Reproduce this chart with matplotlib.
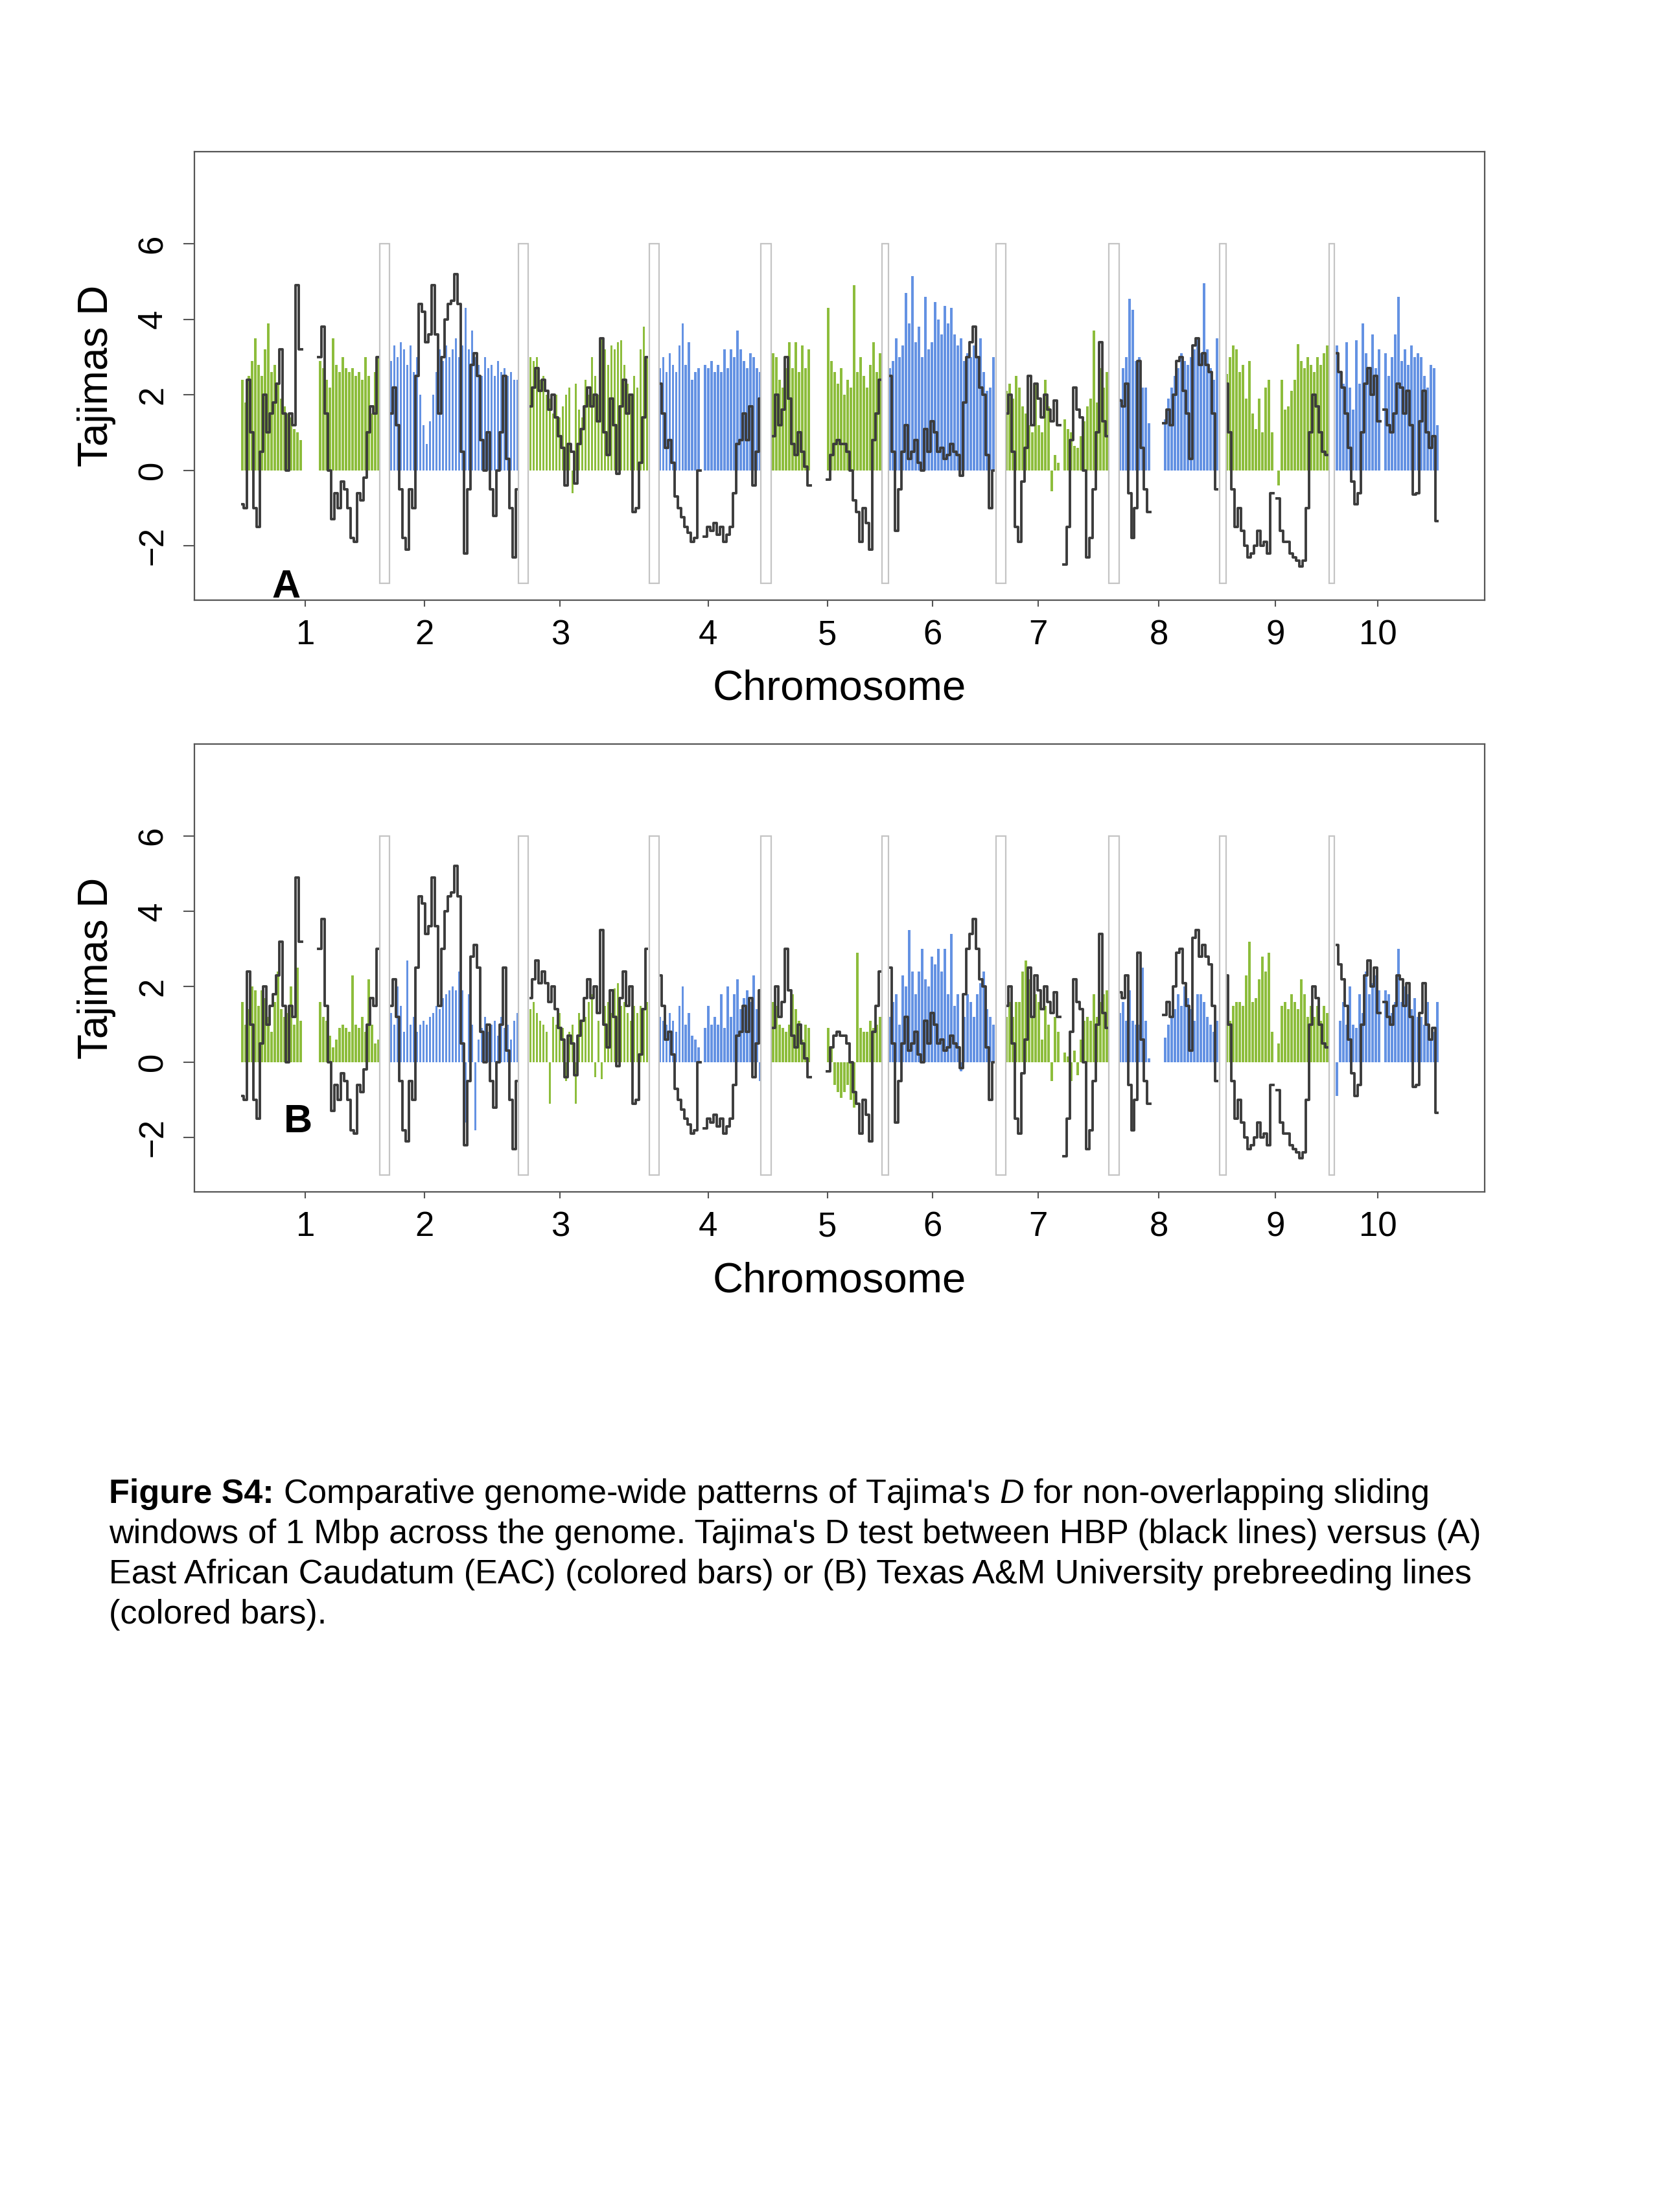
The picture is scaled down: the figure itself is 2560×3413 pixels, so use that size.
import numpy as np
import matplotlib
matplotlib.use("Agg")
import matplotlib.pyplot as plt
from matplotlib.patches import Rectangle

plt.rcParams['font.family'] = ['Liberation Sans', 'DejaVu Sans']
plt.rcParams['mathtext.fontset'] = 'custom'
plt.rcParams['mathtext.rm'] = 'Liberation Sans'
plt.rcParams['mathtext.it'] = 'Liberation Sans:italic'
plt.rcParams['mathtext.bf'] = 'Liberation Sans:bold'

N = None  # no windows (centromere gap)

# window positions along the genome, one value every 2 units from each start
CHROM_START = [0, 92, 178, 258, 328, 400, 472, 542, 608, 676]
CHROM_LABELS = ["1", "2", "3", "4", "5", "6", "7", "8", "9", "10"]
TICK_POS = [39, 112.5, 196.3, 287.7, 361.5, 426.5, 491.7, 566, 638, 701.3]

# white boxes between chromosomes
SEP_LEFT = [85, 170.4, 251.3, 320.3, 395.3, 465.7, 535.3, 603.7, 671.3]
SEP_RIGHT = [91, 176.5, 257.3, 326.5, 399.3, 471.7, 541.5, 607.7, 674.5]

# HBP Tajima's D (black line, same in both panels)
hbp_1 = [-0.9, -1.0, 2.4, 1.0, -1.0, -1.5, 0.5, 2.0, 1.0, 1.5, 1.8, 2.3, 3.2, 1.5, 0.0, 1.5, 1.2, 4.9, 3.2,
         N, N, N, N, N,
         3.0, 3.8, 1.5, 0.0, -1.3, -0.6, -1.0, -0.3, -0.5, -1.0, -1.8, -1.9, -0.6, -0.8, -0.2, 1.0, 1.7, 1.5, 3.0]
hbp_2 = [1.5, 2.2, 1.2, -0.5, -1.8, -2.1, -0.5, -1.0, 2.5, 4.4, 4.2, 3.4, 3.6, 4.9, 3.6, 1.5, 3.0, 4.0, 4.4, 4.5,
         5.2, 4.4, 0.5, -2.2, -0.5, 2.8, 3.1, 2.5, 0.8, 0.0, 1.0, -0.5, -1.2, 0.0, 1.0, 2.5, 0.3, -1.0, -2.3, -0.5]
hbp_3 = [1.7, 2.2, 2.7, 2.1, 2.4, 2.1, 1.6, 2.0, 1.4, 0.9, 0.6, -0.4, 0.7, 0.5, -0.35, 0.7, 1.1, 1.7, 2.2, 1.7,
         2.0, 1.3, 3.5, 1.0, 0.4, 1.9, 1.2, -0.1, 1.7, 2.4, 1.5, 2.0, -1.1, -1.0, 0.2, 1.4, 3.0]
hbp_4 = [2.3, 1.5, 0.6, 0.8, 0.2, -0.7, -1.0, -1.25, -1.5, -1.65, -1.9, -1.8, 0.0,
         N,
         -1.75, -1.5, -1.6, -1.4, -1.7, -1.5, -1.9, -1.7, -1.5, -0.6, 0.7, 0.8, 1.5, 0.8, 1.7, -0.4, 0.5, 1.9]
hbp_5 = [0.9, 2.0, 1.2, 1.6, 3.0, 1.9, 0.7, 0.4, 1.0, 0.5, 0.1, -0.4,
         N, N, N, N, N,
         -0.25, 0.4, 0.7, 0.8, 0.7, 0.7, 0.5, 0.0, -0.8, -1.1, -1.9, -1.0, -1.4, -2.1, 0.8, 1.5, 2.4]
hbp_6 = [2.5, 0.5, -1.6, -0.5, 0.5, 1.2, 0.3, 0.5, 0.8, 0.2, 0.0, 1.1, 0.5, 1.3, 1.0, 0.5, 0.6, 0.3, 0.4, 0.7,
         0.5, 0.4, -0.15, 1.8, 3.0, 3.4, 3.8, 3.0, 2.2, 2.0, 0.4, -1.0, 0.0]
hbp_7 = [1.5, 2.0, 0.5, -1.5, -1.9, -0.3, 0.6, 2.5, 1.2, 2.3, 1.9, 1.4, 2.0, 1.6, 1.3, 1.85, 1.2,
         N,
         -2.5, -1.5, 0.8, 2.2, 1.6, 1.4, 0.0, -2.3, -1.8, -0.5, 1.0, 3.4, 1.3, 0.9]
hbp_8 = [1.85, 1.7, 2.3, -0.6, -1.8, -1.0, 2.9, 0.6, -0.5, -1.1,
         N, N, N, N,
         1.25, 1.6, 1.2, 2.0, 2.9, 3.0, 2.1, 1.5, 0.3, 3.3, 3.5, 2.8, 3.1, 2.8, 2.6, 1.5, -0.5]
hbp_9 = [2.3, 1.0, -0.5, -1.5, -1.0, -1.6, -2.0, -2.3, -2.2, -2.0, -1.6, -2.0, -1.9, -2.2, -0.6,
         N,
         -0.75, -1.6, -1.9, -1.9, -2.2, -2.3, -2.4, -2.55, -2.4, -1.0, 1.0, 2.0, 1.7, 1.0, 0.5, 0.4]
hbp_10 = [3.1, 2.6, 2.2, 1.5, 0.6, -0.3, -0.9, -0.6, 1.0, 2.3, 2.7, 2.0, 2.5, 1.3,
          N,
          1.6, 1.2, 1.0, 1.5, 2.3, 2.2, 1.5, 2.1, 1.2, -0.65, -0.6, 1.3, 2.1, 1.0, 0.6, 0.9, -1.35]

# (A) East African Caudatum (coloured bars)
eac_1 = [2.4, 1.8, 2.5, 2.9, 3.5, 2.8, 2.5, 3.2, 3.9, 2.6, 2.8, 2.3, 1.9, 1.7, 1.5, 1.4, 1.1, 1.0, 0.8,
         N, N, N, N, N,
         2.9, 2.7, 2.4, 2.2, 3.5, 2.8, 2.6, 3.0, 2.7, 2.6, 2.7, 2.5, 2.6, 2.4, 3.0, 2.5, 1.5, 2.6, 3.0]
eac_2 = [2.9, 3.3, 3.0, 3.4, 3.2, 2.8, 3.3, 2.6, 3.0, 2.0, 1.2, 0.7, 1.3, 2.0, 2.6, 3.2, 2.9, 3.3, 3.0, 3.2,
         3.5, 3.0, 3.3, 4.3, 3.2, 3.7, 3.0, 2.8, 2.5, 3.0, 2.7, 2.8, 2.5, 2.9, 2.6, 2.7, 2.5, 2.6, 2.4, 2.4]
eac_3 = [3.0, 2.9, 3.0, 2.4, 2.5, 2.0, 1.9, 1.5, 2.0, 1.4, 1.7, 2.0, 2.2, -0.6, 2.3, 1.6, 1.4, 2.4, 2.0, 3.0,
         2.5, 2.0, 3.5, 3.2, 2.8, 3.3, 3.2, 3.4, 3.45, 2.8, 2.3, 2.0, 2.5, 2.2, 3.2, 3.8, 3.0]
eac_4 = [2.7, 3.0, 2.6, 3.1, 2.8, 2.6, 3.3, 3.9, 2.8, 3.4, 2.4, 2.6, 2.7,
         N,
         2.8, 2.7, 2.9, 2.6, 2.8, 2.6, 3.2, 2.7, 3.2, 3.0, 3.7, 3.2, 2.9, 2.7, 3.1, 3.0, 2.7, 2.6]
eac_5 = [3.1, 3.0, 2.4, 2.2, 2.7, 3.4, 2.7, 3.4, 2.6, 3.3, 2.7, 3.2,
         N, N, N, N, N,
         4.3, 2.9, 2.6, 2.3, 2.7, 2.0, 2.4, 2.2, 4.9, 2.6, 3.0, 2.5, 2.2, 2.8, 3.4, 2.6, 3.1]
eac_6 = [2.7, 2.9, 3.5, 3.0, 3.3, 4.7, 3.9, 5.15, 3.4, 3.8, 3.0, 4.6, 3.2, 3.4, 4.45, 4.0, 3.6, 4.35, 3.9, 4.3,
         3.6, 3.3, 3.5, 2.9, 3.1, 3.0, 3.3, 3.0, 3.5, 2.6, 2.1, 2.2, 3.0]
eac_7 = [2.1, 2.3, 1.9, 2.5, 2.2, 1.7, 1.5, 1.2, 1.0, 2.3, 1.2, 1.0, 2.4, 1.7, -0.55, 0.4, 0.2,
         N,
         1.35, 1.1, 1.0, 0.65, 0.6, 0.9, 1.3, 1.7, 1.9, 3.7, 1.8, 2.7, 2.2, 2.6]
eac_8 = [1.9, 2.7, 3.0, 4.55, 4.25, 2.9, 3.0, 2.2, 2.2, 1.25,
         N, N, N, N,
         1.35, 1.9, 2.2, 2.5, 2.7, 3.1, 2.9, 2.8, 3.0, 3.2, 3.5, 3.1, 4.95, 3.2, 2.7, 2.4, 3.5]
eac_9 = [2.55, 3.0, 3.3, 3.2, 2.6, 2.8, 1.9, 2.9, 1.5, 1.1, 1.9, 1.0, 2.2, 2.4, 1.0,
         N,
         -0.4, 2.4, 1.6, 1.7, 2.1, 2.4, 3.35, 2.9, 2.7, 3.0, 2.8, 2.6, 3.0, 2.8, 3.1, 3.3]
eac_10 = [3.3, 2.6, 2.3, 3.4, 2.2, 1.6, 3.45, 2.3, 3.9, 3.1, 2.7, 3.6, 2.7, 3.2,
          N,
          3.1, 2.5, 3.0, 3.6, 4.6, 2.9, 3.2, 2.8, 3.3, 3.0, 3.1, 3.0, 2.5, 2.2, 2.8, 2.7, 1.2]

# (B) Texas A&M prebreeding lines (coloured bars)
tam_1 = [1.6, 1.0, 1.4, 2.0, 1.9, 1.5, 1.9, 1.7, 1.2, 0.8, 1.6, 2.4, 1.4, 1.2, 1.3, 2.0, 1.0, 2.5, 1.1,
         N, N, N, N, N,
         1.6, 1.2, 1.1, 0.7, 0.4, 0.6, 0.9, 1.0, 0.9, 0.8, 2.3, 1.0, 0.9, 1.2, 0.8, 2.2, 1.0, 0.5, 0.6]
tam_2 = [1.3, 1.0, 2.0, 1.5, 0.8, 2.7, 1.0, 1.2, 0.8, 1.0, 1.1, 1.0, 1.2, 1.3, 1.5, 1.4, 1.7, 1.8, 1.9, 2.0,
         1.9, 2.4, 1.9, -1.6, 1.8, 1.0, -1.8, 0.6, 0.9, 1.2, 0.8, 1.0, 1.1, 0.7, 1.2, 0.9, 1.0, 0.6, 1.1, 1.3]
tam_3 = [1.4, 1.6, 1.3, 1.1, 1.0, 0.8, -1.1, 1.2, 1.0, 1.3, 0.9, -0.5, 0.8, 1.0, -1.1, 1.3, 1.1, 1.2, 1.6, 1.8,
         -0.4, 1.1, -0.45, 1.5, 1.6, 1.3, 1.95, 2.1, 1.5, 1.6, 1.3, 1.1, 1.5, 1.3, 1.5, 1.4, 1.6]
tam_4 = [1.2, 1.1, 1.0, 1.3, 1.1, 0.8, 1.5, 2.0, 1.0, 1.3, 0.7, 0.6, 0.4,
         N,
         0.9, 1.5, 1.0, 1.2, 1.0, 1.8, 0.9, 2.0, 1.2, 1.8, 2.2, 1.4, 1.7, 1.9, 1.6, 2.3, 1.4, -0.5]
tam_5 = [1.6, 1.5, 1.0, 0.9, 0.8, 1.0, 1.8, 1.4, 1.1, 0.6, 1.0, 0.9,
         N, N, N, N, N,
         0.9, 0.4, -0.6, -0.8, -0.95, -0.8, -0.6, -1.0, -1.2, 2.9, 0.9, 0.8, 0.8, 1.1, 0.9, 1.0, 1.2]
tam_6 = [1.2, 1.6, 1.8, 1.0, 2.3, 2.0, 3.5, 2.4, 1.8, 2.4, 3.0, 2.2, 2.0, 2.8, 2.6, 3.0, 2.4, 3.0, 1.8, 3.4,
         1.5, 1.8, -0.25, 1.2, 1.8, 1.6, 1.2, 1.8, 2.1, 2.4, 1.4, 1.2, 1.0]
tam_7 = [1.2, 1.6, 1.2, 1.6, 1.6, 2.4, 2.7, 2.2, 1.2, 1.8, 1.6, 0.6, 1.5, 1.0, -0.5, 1.2, 0.8,
         N,
         0.25, 0.15, -0.5, 0.3, -0.35, 0.6, 1.1, 1.2, 1.1, 1.8, 1.2, 1.6, 1.8, 1.9]
tam_8 = [1.3, 1.6, 1.1, 1.9, 1.1, 1.0, 1.0, 2.5, 1.1, 0.1,
         N, N, N, N,
         0.65, 1.0, 1.2, 1.4, 1.8, 1.5, 2.0, 1.7, 1.4, 1.1, 1.8, 1.8, 1.6, 1.2, 1.0, 0.8, 1.1]
tam_9 = [1.0, 1.1, 1.5, 1.6, 1.6, 1.5, 2.3, 3.2, 1.6, 1.7, 2.2, 2.8, 2.4, 2.9, 0.8,
         N,
         0.5, 1.5, 1.6, 1.4, 1.8, 1.6, 1.4, 2.2, 1.8, 1.2, 1.5, 1.2, 1.5, 1.1, 1.5, 1.3]
tam_10 = [-0.9, 1.1, 1.6, 1.0, 2.0, 1.0, 0.9, 1.8, 1.3, 2.4, 1.8, 2.1, 2.3, 1.9,
          N,
          1.9, 1.8, 1.3, 1.6, 3.0, 1.6, 2.0, 1.8, 1.4, 1.7, 1.2, 1.2, 1.0, 1.6, 0.6, 0.8, 1.6]

HBP = [hbp_1, hbp_2, hbp_3, hbp_4, hbp_5, hbp_6, hbp_7, hbp_8, hbp_9, hbp_10]
EAC = [eac_1, eac_2, eac_3, eac_4, eac_5, eac_6, eac_7, eac_8, eac_9, eac_10]
TAM = [tam_1, tam_2, tam_3, tam_4, tam_5, tam_6, tam_7, tam_8, tam_9, tam_10]

GREEN = "#8dbd3c"
BLUE = "#6492e3"
LINE = "#3c3c3c"
FRAME = "#555555"


def draw_panel(ax, bars, tag, tag_x, tag_y):
    for i, start in enumerate(CHROM_START):
        b = np.array(bars[i], dtype=float)
        h = np.array(HBP[i], dtype=float)
        x = start + 2 * np.arange(len(b))
        col = GREEN if i % 2 == 0 else BLUE
        ok = ~np.isnan(b)
        ax.bar(x[ok], b[ok], width=1.5, color=col, linewidth=0, zorder=2)
        ax.plot(x, h, drawstyle="steps-mid", color=LINE, lw=2.8, zorder=3)
    for l, r in zip(SEP_LEFT, SEP_RIGHT):
        ax.add_patch(Rectangle((l, -3), r - l, 9, facecolor="white",
                               edgecolor="#c4c4c4", lw=1.6, zorder=4))
    ax.text(tag_x, tag_y, tag, fontsize=44, fontweight="bold",
            ha="center", va="center", zorder=5)

    ax.set_xlim(-29.5, 767.5)
    ax.set_ylim(-3.44, 8.44)
    ax.set_xticks(TICK_POS)
    ax.set_xticklabels(CHROM_LABELS)
    ax.set_yticks([-2, 0, 2, 4, 6])
    ax.set_yticklabels(["\u22122", "0", "2", "4", "6"], rotation=90, va="center")
    ax.tick_params(axis="x", length=7, width=1.5, color=FRAME, pad=14, labelsize=38)
    ax.tick_params(axis="y", length=12, width=1.5, color=FRAME, pad=16, labelsize=38)
    for s in ax.spines.values():
        s.set_color(FRAME)
        s.set_linewidth(1.6)


fig = plt.figure(figsize=(25.6, 34.13), dpi=100)
axA = fig.add_axes([0.1172, 0.7287, 0.7779, 0.2027])
axB = fig.add_axes([0.1172, 0.4612, 0.7779, 0.2025])

draw_panel(axA, EAC, "A", 27, -3.1)
draw_panel(axB, TAM, "B", 34.5, -1.6)

for yc in (0.6886, 0.4208):
    fig.text(0.506, yc, "Chromosome", fontsize=47, ha="center", va="center")
for yc in (0.8301, 0.5623):
    fig.text(0.0582, yc, "Tajimas D", fontsize=46, rotation=90, ha="center", va="center")

# caption: bold lead-in on the first line, then regular text
CAP_SIZE = 37.5
cap_x = 168 / 2560
cap_y = [(3413 - (2305 + 62 * k)) / 3413 for k in range(4)]
renderer = fig.canvas.get_renderer()
lead = fig.text(cap_x, cap_y[0], "Figure S4:", fontsize=CAP_SIZE, fontweight="bold",
                ha="left", va="center")
lead_w = lead.get_window_extent(renderer).width
space_w = 0.278 * CAP_SIZE * fig.dpi / 72
fig.text(cap_x + (lead_w + space_w) / (fig.dpi * fig.get_figwidth()), cap_y[0],
         r"Comparative genome-wide patterns of Tajima's $\mathit{D}$ for non-overlapping sliding",
         fontsize=CAP_SIZE, ha="left", va="center")
rest = [
    "windows of 1 Mbp across the genome. Tajima's D test between HBP (black lines) versus (A)",
    "East African Caudatum (EAC) (colored bars) or (B) Texas A&M University prebreeding lines",
    "(colored bars).",
]
for k, line in enumerate(rest):
    fig.text(cap_x, cap_y[k + 1], line, fontsize=CAP_SIZE, ha="left", va="center")

fig.savefig("out.png", dpi=100, facecolor="white")
